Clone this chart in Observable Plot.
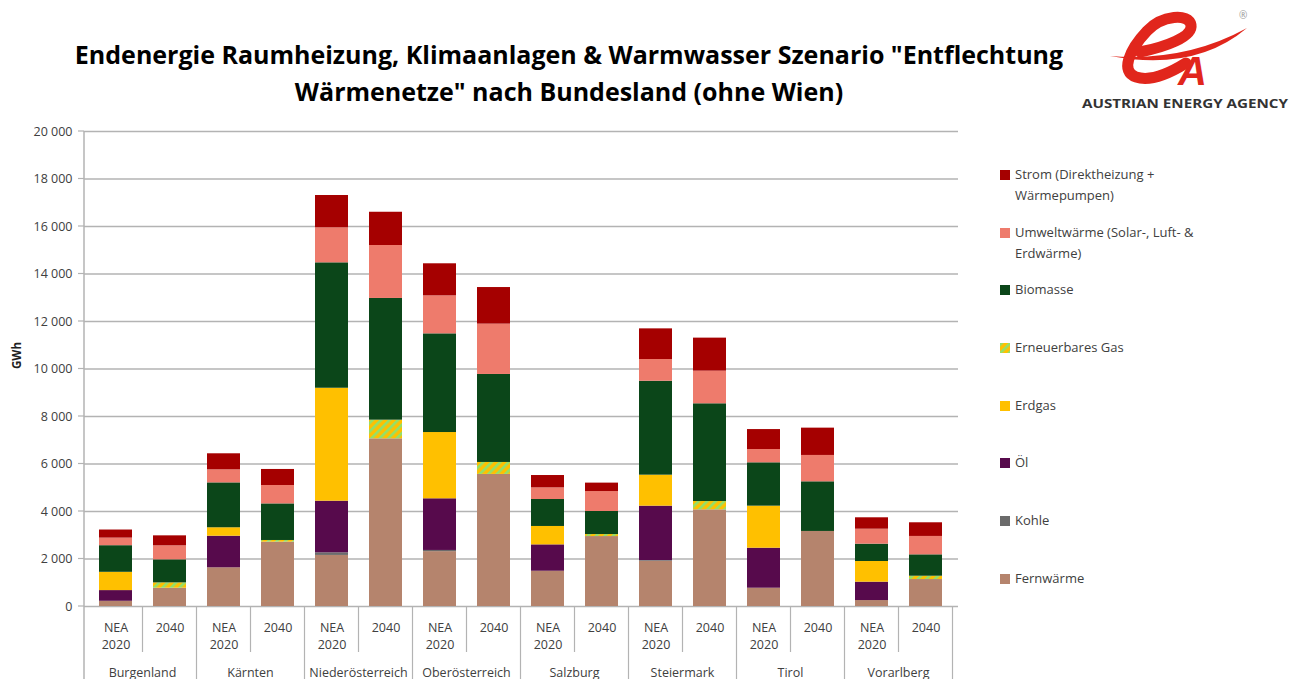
<!DOCTYPE html>
<html><head><meta charset="utf-8">
<script src="https://cdn.jsdelivr.net/npm/d3@7"></script>
<script src="https://cdn.jsdelivr.net/npm/@observablehq/plot@0.6"></script>
<style>
body{margin:0;background:#fff;font-family:"Open Sans",sans-serif;width:1291px;height:679px;overflow:hidden;position:relative}
#title{position:absolute;left:0;top:36px;width:1138px;text-align:center;font-weight:700;font-size:25px;line-height:37px;color:#000}
#chart{position:absolute;left:0;top:112px}
#legend{position:absolute;left:0;top:0;width:1291px;height:679px}
.item{position:absolute;left:1000px;width:290px;font-size:13px;line-height:21px;color:#404040;white-space:pre}
.sw{position:absolute;left:0;top:6px;width:10px;height:10px}
.lab{margin-left:15px}
#logo{position:absolute;left:0;top:0}
</style></head>
<body>
<svg width="0" height="0" style="position:absolute">
  <defs>
    <pattern id="hatch" patternUnits="userSpaceOnUse" width="6" height="6" patternTransform="rotate(45)">
      <rect width="6" height="6" fill="#ffc000"></rect>
      <rect width="2.6" height="6" fill="#92e06a"></rect>
    </pattern>
  </defs>
</svg>
<div id="title">Endenergie Raumheizung, Klimaanlagen &amp; Warmwasser Szenario "Entflechtung<br>Wärmenetze" nach Bundesland (ohne Wien)</div>
<svg id="logo" width="1291" height="120">
  <path d="M1110 56 Q1185 62 1247 28 Q1195 72 1110 56 Z" fill="#e1261c"></path>
  <path d="M1140 52 C1165 47, 1193 37, 1191 25 C1189 13, 1162 15, 1147 31 C1129 50, 1120 72, 1136 77 C1151 82, 1170 73, 1186 63" fill="none" stroke="#e1261c" stroke-width="11" stroke-linecap="round"></path>
  <text x="1178" y="85" font-family="Liberation Sans" font-style="italic" font-weight="700" font-size="40" fill="#e1261c">A</text>
  <text x="1239" y="19" font-family="Open Sans" font-size="10" fill="#999">®</text>
  <text x="1082" y="108" font-family="Open Sans" font-weight="700" font-size="12" fill="#333" textLength="206" lengthAdjust="spacingAndGlyphs">AUSTRIAN ENERGY AGENCY</text>
</svg>
<div id="chart"></div>
<div id="legend"></div>
<script>
// ---- data ----
const regions = ["Burgenland","Kärnten","Niederösterreich","Oberösterreich","Salzburg","Steiermark","Tirol","Vorarlberg"];
const periods = ["NEA 2020","2040"];
const periodLabels = ["NEA\n2020","2040"];
const seriesNames = ["Fernwärme","Kohle","Öl","Erdgas","Erneuerbares Gas","Biomasse","Umweltwärme (Solar-, Luft- & Erdwärme)","Strom (Direktheizung + Wärmepumpen)"];
const legendLabels = ["Fernwärme","Kohle","Öl","Erdgas","Erneuerbares Gas","Biomasse","Umweltwärme (Solar-, Luft- &\nErdwärme)","Strom (Direktheizung +\nWärmepumpen)"];
const fernwaerme = [220, 770, 1630, 2710, 2150, 7060, 2310, 5560, 1485, 2945, 1905, 4070, 770, 3160, 250, 1135];
const kohle      = [0, 0, 0, 0, 110, 0, 50, 0, 0, 0, 30, 0, 0, 0, 0, 0];
const oel        = [450, 0, 1330, 0, 2175, 0, 2175, 0, 1110, 0, 2290, 0, 1685, 0, 775, 0];
const erdgas     = [770, 0, 355, 0, 4755, 0, 2790, 0, 775, 0, 1305, 0, 1770, 0, 870, 0];
const ernGas     = [0, 225, 0, 70, 0, 785, 0, 505, 0, 85, 0, 350, 0, 0, 0, 140];
const biomasse   = [1120, 970, 1890, 1540, 5280, 5125, 4155, 3705, 1135, 970, 3955, 4115, 1825, 2090, 730, 900];
const umwelt     = [320, 590, 550, 775, 1475, 2230, 1600, 2120, 490, 840, 915, 1375, 560, 1110, 630, 775];
const strom      = [340, 420, 675, 675, 1360, 1400, 1350, 1540, 520, 355, 1290, 1390, 840, 1150, 480, 575];
const yTicks = [0, 2000, 4000, 6000, 8000, 10000, 12000, 14000, 16000, 18000, 20000];

// ---- styles ----
const seriesColors = ["#b5846d","#6b6b6b","#570a4c","#ffc000","url(#hatch)","#0b4619","#ee7b6c","#a50000"];

const seriesValues = [fernwaerme, kohle, oel, erdgas, ernGas, biomasse, umwelt, strom];
const keys = [];
regions.forEach(r => periods.forEach(p => keys.push(r + "|" + p)));
const rows = [];
seriesNames.forEach((s, j) => keys.forEach((k, i) => rows.push({key: k, series: s, value: seriesValues[j][i]})));

const fmt = d => d3.format(",")(d).replace(/,/g, " ");

function table(index, scales, values, dims) {
  const x = scales.x, y = scales.y;
  const step = x(keys[1]) - x(keys[0]);
  const bw = typeof x.bandwidth === "function" ? x.bandwidth() : step * 0.62;
  const gap = (step - bw) / 2;
  const y0 = y(0);
  const g = d3.create("svg:g");
  const lc = "#b3b3b3";
  g.append("line").attr("x1", dims.marginLeft).attr("x2", dims.marginLeft)
    .attr("y1", y(yTicks[yTicks.length - 1])).attr("y2", dims.height).attr("stroke", lc).attr("stroke-width", 1.5);
  keys.forEach((k, i) => {
    const xr = x(k) + bw + gap;
    const groupEnd = i % 2 === 1;
    g.append("line").attr("x1", xr).attr("x2", xr).attr("y1", y0)
      .attr("y2", groupEnd ? dims.height : y0 + 46).attr("stroke", lc).attr("stroke-width", 1.2);
  });
  regions.forEach((r, j) => {
    const xm = x(keys[2 * j]) + bw + gap;
    g.append("text").attr("x", xm).attr("y", y0 + 67).attr("dy", "0.35em")
      .attr("text-anchor", "middle").attr("fill", "#404040").attr("font-size", 12.5).text(r);
  });
  yTicks.forEach(t => {
    g.append("line").attr("x1", dims.marginLeft - 6).attr("x2", dims.marginLeft).attr("y1", y(t)).attr("y2", y(t))
      .attr("stroke", lc).attr("stroke-width", 1.2);
  });
  return g.node();
}

const chart = Plot.plot({
  width: 1291,
  height: 580,
  marginLeft: 84,
  marginRight: 333,
  marginTop: 19,
  marginBottom: 86,
  style: {fontFamily: "Open Sans", fontSize: "13px", color: "#404040", overflow: "visible"},
  x: {domain: keys, paddingInner: 0.38, paddingOuter: 0.19, axis: null},
  y: {domain: [0, 20000], axis: null},
  color: {domain: seriesNames, range: seriesColors},
  marks: [
    Plot.gridY(yTicks, {stroke: "#b3b3b3", strokeOpacity: 1, strokeWidth: 1.5}),
    Plot.barY(rows, Plot.stackY({x: "key", y: "value", fill: "series", order: seriesNames})),
    Plot.axisY(yTicks, {tickSize: 0, tickPadding: 12, tickFormat: fmt, fill: "#404040", fontSize: 12.5, label: null}),
    Plot.axisX(keys, {tickSize: 0, tickPadding: 13, lineHeight: 1.4, fontSize: 12.5, fill: "#404040", label: null,
      tickFormat: k => periodLabels[periods.indexOf(k.split("|")[1])]}),
    Plot.text(["GWh"], {frameAnchor: "left", dx: -67, rotate: -90, fontWeight: "bold", fontSize: 11.5, fill: "#202020"}),
    table
  ]
});
document.getElementById("chart").appendChild(chart);

// ---- legend ----
const legendCenters = [174, 232, 289, 347, 405, 462, 520, 578];
const legend = document.getElementById("legend");
const order = seriesNames.map((s, i) => i).reverse();
order.forEach((si, pos) => {
  const it = document.createElement("div");
  it.className = "item";
  it.style.top = (legendCenters[pos] - 10.5) + "px";
  const sw = document.createElementNS("http://www.w3.org/2000/svg", "svg");
  sw.setAttribute("class", "sw");
  sw.setAttribute("width", 10); sw.setAttribute("height", 10);
  const rc = document.createElementNS("http://www.w3.org/2000/svg", "rect");
  rc.setAttribute("width", 10); rc.setAttribute("height", 10); rc.setAttribute("fill", seriesColors[si]);
  sw.appendChild(rc);
  it.appendChild(sw);
  const lb = document.createElement("div");
  lb.className = "lab";
  lb.textContent = legendLabels[si];
  it.appendChild(lb);
  legend.appendChild(it);
});
</script>
</body></html>
